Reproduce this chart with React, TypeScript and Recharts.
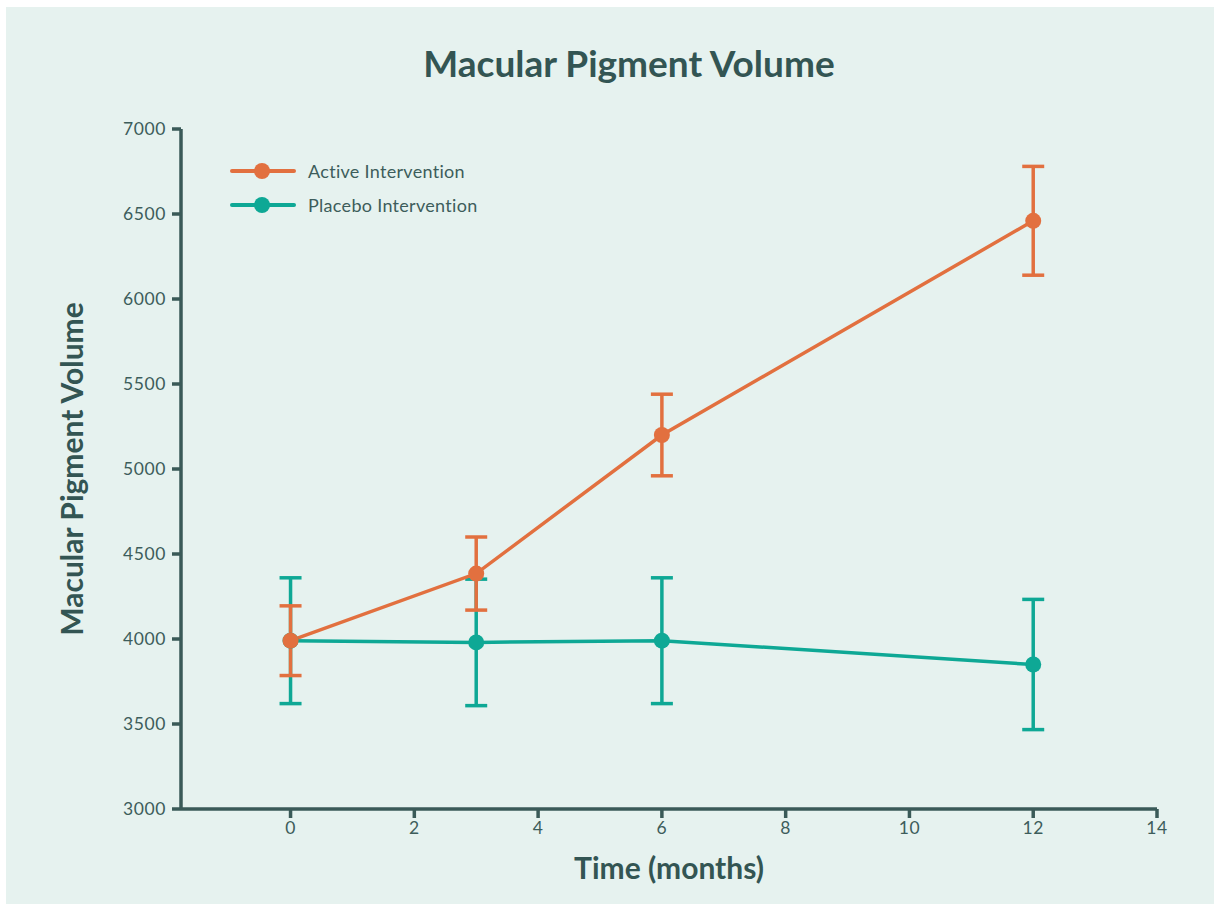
import { LineChart, Line, XAxis, YAxis, ErrorBar } from "recharts";

const months = [0, 3, 6, 12];
const activeValues = [3990, 4385, 5200, 6460];
const activeErrors = [205, 215, 240, 320];
const placeboValues = [3990, 3980, 3990, 3850];
const placeboErrors = [370, 372, 370, 383];
const xTicks = [0, 2, 4, 6, 8, 10, 12, 14];
const yTicks = [3000, 3500, 4000, 4500, 5000, 5500, 6000, 6500, 7000];

const ORANGE = "#e2703f";
const TEAL = "#0ea895";
const INK = "#3a5a58";
const FONT = "Lato, 'Open Sans', sans-serif";

const data = months.map((m, i) => ({
  month: m,
  active: activeValues[i],
  activeErr: activeErrors[i],
  placebo: placeboValues[i],
  placeboErr: placeboErrors[i],
}));

const legendItems = [
  { name: "Active Intervention", color: ORANGE },
  { name: "Placebo Intervention", color: TEAL },
];

function ChartLegend() {
  return (
    <div style={{ fontFamily: FONT, fontSize: 18, letterSpacing: 0.3, color: "#3d5d5b" }}>
      {legendItems.map((item) => (
        <div key={item.name} style={{ display: "flex", alignItems: "center", height: 34 }}>
          <svg width={70} height={20}>
            <line x1={2} y1={10} x2={64} y2={10} stroke={item.color} strokeWidth={4} strokeLinecap="round" />
            <circle cx={32} cy={10} r={8} fill={item.color} />
          </svg>
          <span style={{ marginLeft: 8 }}>{item.name}</span>
        </div>
      ))}
    </div>
  );
}

const tickStyle = { fill: "#3d5d5b", fontSize: 17.5, fontFamily: FONT, letterSpacing: 0.6 };

export default function App() {
  return (
    <div style={{ position: "absolute", left: 0, top: 0, width: 1214, height: 904, background: "#fff" }}>
      <div style={{ position: "absolute", left: 6, top: 7, right: 0, bottom: 0, background: "#e6f2ef" }} />
      <div
        style={{
          position: "absolute",
          top: 40,
          left: 0,
          width: 1258,
          textAlign: "center",
          fontFamily: FONT,
          fontWeight: 700,
          fontSize: 37,
          color: "#335553",
        }}
      >
        Macular Pigment Volume
      </div>
      <div style={{ position: "absolute", left: 0, top: 0 }}>
        <LineChart width={1214} height={904} data={data} margin={{ top: 129, right: 57, bottom: 0, left: 0 }}>
          <XAxis
            dataKey="month"
            type="number"
            domain={[-1.77, 14]}
            ticks={xTicks}
            allowDataOverflow
            stroke={INK}
            strokeWidth={3.5}
            tickSize={9}
            tickMargin={4}
            tick={tickStyle}
            tickLine={{ stroke: INK, strokeWidth: 3.5 }}
            height={95}
            label={{
              value: "Time (months)",
              position: "insideTop",
              offset: 49,
              style: { fill: "#335553", fontSize: 30, fontWeight: 700, fontFamily: FONT },
            }}
          />
          <YAxis
            type="number"
            domain={[3000, 7000]}
            ticks={yTicks}
            width={181}
            stroke={INK}
            strokeWidth={3.5}
            tickSize={9}
            tickMargin={6}
            tick={tickStyle}
            tickLine={{ stroke: INK, strokeWidth: 3.5 }}
            label={{
              value: "Macular Pigment Volume",
              angle: -90,
              position: "insideLeft",
              offset: 72,
              style: { fill: "#335553", fontSize: 30, fontWeight: 700, fontFamily: FONT, textAnchor: "middle" },
            }}
          />
          <Line
            type="linear"
            dataKey="placebo"
            name="Placebo Intervention"
            stroke={TEAL}
            strokeWidth={3.5}
            dot={{ r: 8, fill: TEAL, stroke: "none" }}
            isAnimationActive={false}
          >
            <ErrorBar dataKey="placeboErr" width={11} stroke={TEAL} strokeWidth={3.5} direction="y" />
          </Line>
          <Line
            type="linear"
            dataKey="active"
            name="Active Intervention"
            stroke={ORANGE}
            strokeWidth={3.5}
            dot={{ r: 8, fill: ORANGE, stroke: "none" }}
            isAnimationActive={false}
          >
            <ErrorBar dataKey="activeErr" width={11} stroke={ORANGE} strokeWidth={3.5} direction="y" />
          </Line>
        </LineChart>
      </div>
      <div style={{ position: "absolute", left: 230, top: 154 }}>
        <ChartLegend />
      </div>
    </div>
  );
}
